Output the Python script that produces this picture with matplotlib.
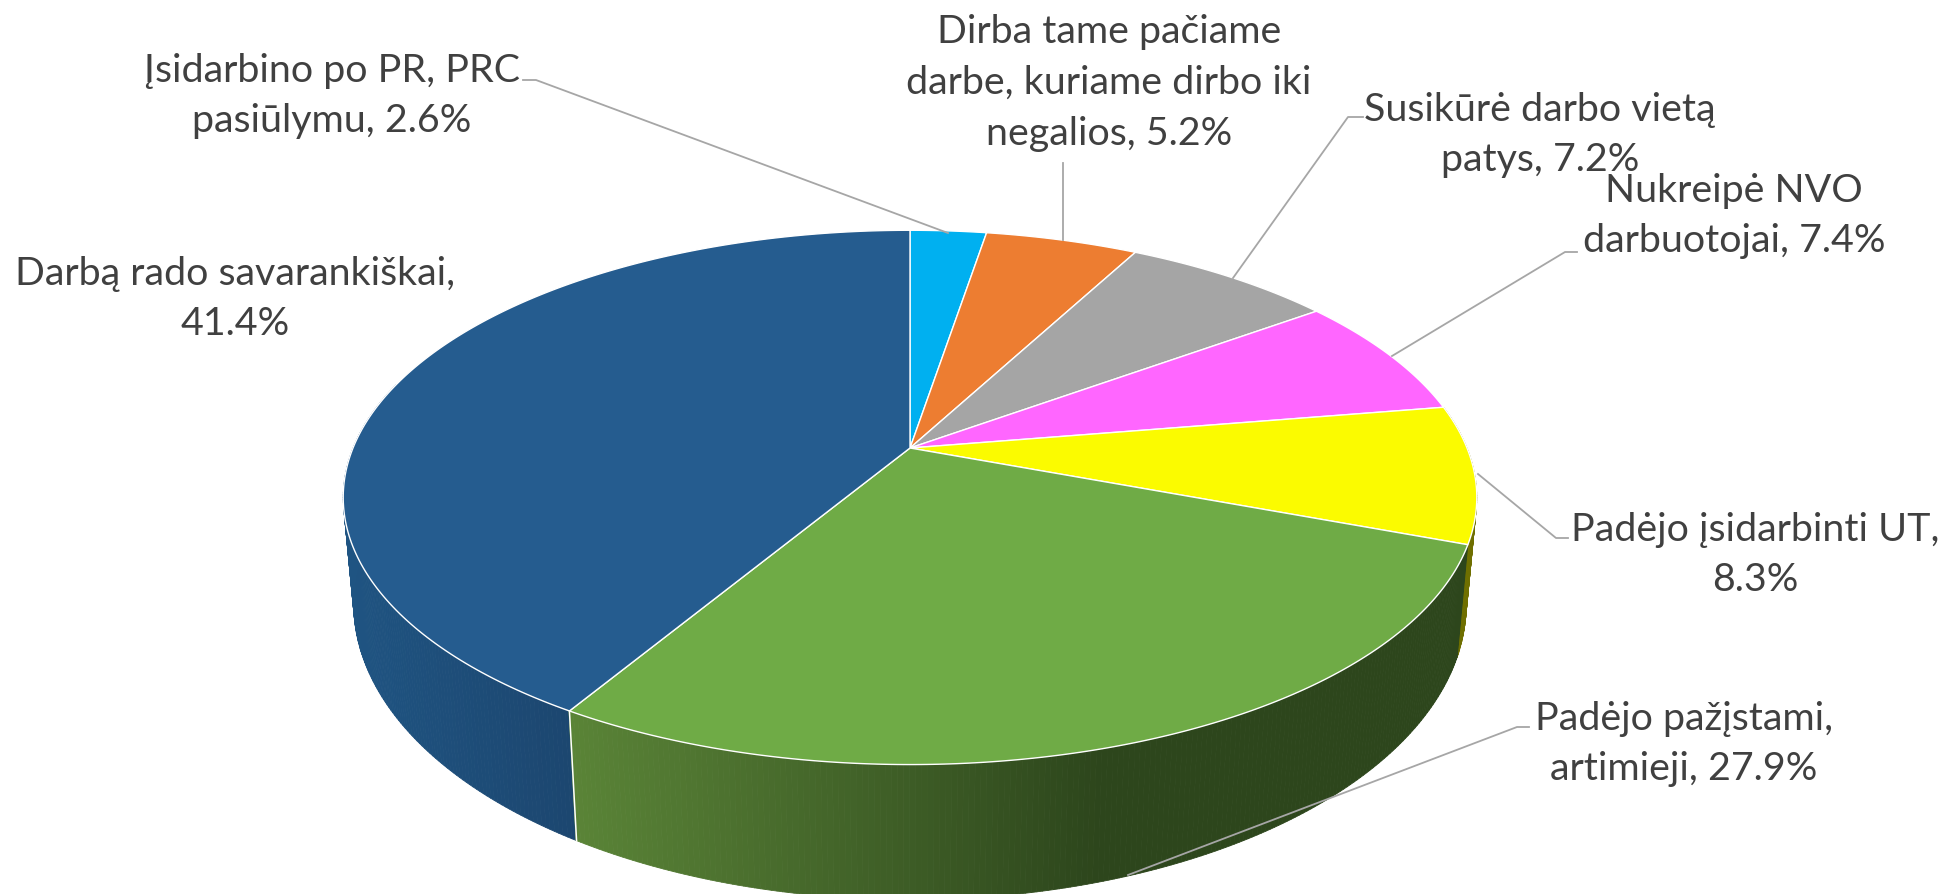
# -*- coding: utf-8 -*-
import numpy as np
import matplotlib.pyplot as plt
from matplotlib.collections import PolyCollection

labels = ["Įsidarbino po PR, PRC\npasiūlymu, 2.6%",
          "Dirba tame pačiame\ndarbe, kuriame dirbo iki\nnegalios, 5.2%",
          "Susikūrė darbo vietą\npatys, 7.2%",
          "Nukreipė NVO\ndarbuotojai, 7.4%",
          "Padėjo įsidarbinti UT,\n8.3%",
          "Padėjo pažįstami,\nartimieji, 27.9%",
          "Darbą rado savarankiškai,\n41.4%"]
values = [2.6, 5.2, 7.2, 7.4, 8.3, 27.9, 41.4]

colors = ["#00B0F0", "#ED7D31", "#A5A5A5", "#FF66FF", "#FBFB00", "#6FAB46", "#255C8F"]
side_left = ["#0080B0", "#B05A20", "#7A7A7A", "#B040B0", "#7F7F00", "#5A8437", "#1F5482"]
side_right = ["#0080B0", "#B05A20", "#7A7A7A", "#B040B0", "#6F6F00", "#2D461C", "#1C466F"]

text_pos = [(332, 96), (1109, 83), (1540, 135), (1734, 216), (1755, 555), (1684, 744), (235, 299)]
leaders = [[(523, 80), (536, 80), (948, 233)],
           [(1063, 163), (1063, 240)],
           [(1363, 117), (1348, 117), (1233, 278)],
           [(1577, 252), (1565, 252), (1392, 356)],
           [(1568, 538), (1556, 538), (1478, 474)],
           [(1529, 727), (1517, 727), (1128, 875)]]

CX, CY = 910, 448


def rim_top(t):
    # t in degrees, clockwise from the top of the pie
    a = np.radians(t)
    x, y = np.sin(a), np.cos(a)
    w = 1 + 0.185 * y
    return CX + 557 * x / w, CY - 258 * y / w


def rim_bottom(t):
    a = np.radians(t)
    x, y = np.sin(a), np.cos(a)
    w = 1 + 0.182 * y
    return CX + 547 * x / w, CY + 102 - 286 * y / w


def hex2rgb(c):
    return np.array([int(c[i:i + 2], 16) / 255 for i in (1, 3, 5)])


fig = plt.figure(figsize=(19.42, 8.94), dpi=100)
ax = fig.add_axes([0, 0, 1, 1])
ax.set_xlim(0, 1942)
ax.set_ylim(894, 0)
ax.axis("off")

edges = np.concatenate([[0], np.cumsum(values)]) / sum(values) * 360

# side walls, right side first so that the green one sits over the yellow
for i in [4, 6, 5]:
    ts = np.arange(edges[i], edges[i + 1] + 0.5, 0.5)
    ts = ts[(ts < 285)]
    polys = []
    cols = []
    for t0, t1 in zip(ts[:-1], ts[1:]):
        xa, ya = rim_top(t0)
        xb, yb = rim_top(t1)
        xc, yc = rim_bottom(t1)
        xd, yd = rim_bottom(t0)
        polys.append([(xa, ya), (xb, yb), (xc, yc), (xd, yd)])
        xm = (xa + xb) / 2
        if i == 5:
            f = np.clip((xm - 570) / (1100 - 570), 0, 1)
        else:
            f = np.clip((xm - 343) / (577 - 343), 0, 1)
        cols.append(hex2rgb(side_left[i]) * (1 - f) + hex2rgb(side_right[i]) * f)
    ax.add_collection(PolyCollection(polys, facecolors=cols, edgecolors=cols, linewidths=0.6))

# white seam between the blue and green walls
xa, ya = rim_top(edges[6])
xb, yb = rim_bottom(edges[6])
ax.plot([xa, xb], [ya, yb], color="white", lw=1.1)

# top face
for i in range(len(values)):
    ts = np.linspace(edges[i], edges[i + 1], 200)
    xs, ys = rim_top(ts)
    ax.fill(np.r_[CX, xs], np.r_[CY, ys], facecolor=colors[i], edgecolor="white", lw=1.0, joinstyle="round")

for pts in leaders:
    ax.plot([p[0] for p in pts], [p[1] for p in pts], color="#A6A6A6", lw=1.3)

for lab, (x, y) in zip(labels, text_pos):
    ax.text(x, y, lab, ha="center", va="center", fontsize=28.4, family="Lato", color="#404040", linespacing=1.5)

fig.savefig("out.png", dpi=100)
